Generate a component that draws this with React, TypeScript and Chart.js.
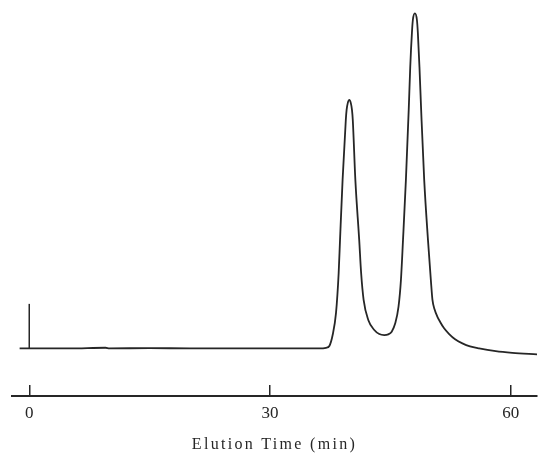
import React, { useEffect, useRef } from "react";
import { Chart, registerables } from "chart.js";

Chart.register(...registerables);

// Elution time (min) and detector response (relative, tallest peak = 100)
const elutionTime = [
  -1.2, 0, 5, 9.5, 10, 15, 20, 25, 30, 34, 36.16, 36.99, 37.4, 37.81, 38.23,
  38.56, 38.73, 39.05, 39.45, 39.55, 39.7, 39.89, 40.07, 40.22, 40.32, 40.64,
  41.12, 41.36, 41.67, 42.25, 43.0, 43.62, 44.24, 44.74, 45.17, 45.61, 46.02,
  46.32, 46.58, 46.94, 47.29, 47.48, 47.69, 47.81, 48.06, 48.31, 48.43, 48.63,
  48.84, 49.22, 49.69, 50.05, 50.25, 50.52, 50.84, 51.21, 51.7, 52.33, 53.07,
  53.98, 54.93, 56.06, 58.13, 60.2, 63.3,
];
const response = [
  0, 0, 0, 0.2, 0, 0.1, 0, 0, 0, 0, 0, 0.2, 0.75, 4.0, 10.6, 22.5, 32.4, 50.3,
  68.2, 71.2, 73.3, 74.2, 73.3, 71.2, 68.2, 50.3, 32.4, 22.5, 14.5, 8.5, 5.5,
  4.3, 4.0, 4.2, 5.0, 7.5, 12.5, 20.4, 32.4, 50.3, 71.2, 84.0, 94.2, 98.1, 100,
  98.1, 94.2, 84.0, 71.2, 50.3, 32.4, 20.4, 14.5, 11.6, 9.6, 7.9, 6.0, 4.3, 2.75,
  1.5, 0.6, 0, -0.8, -1.3, -1.8,
];

// Injection marker
const injectionTime = [0, 0];
const injectionMark = [0, 13.3];

// Axis ticks and title
const tickValues = [0, 30, 60];
const axisTitle = "Elution Time (min)";

const FONT = "'Liberation Serif', 'DejaVu Serif', serif";
const INK = "#262626";

const spacingPlugin = {
  id: "titleSpacing",
  beforeDraw(chart: any) {
    chart.ctx.letterSpacing = "2.3px";
  },
  afterDatasetsDraw(chart: any) {
    chart.ctx.letterSpacing = "0px";
  },
};

export default function App() {
  const ref = useRef<HTMLCanvasElement | null>(null);

  useEffect(() => {
    if (!ref.current) return;
    const trace = elutionTime.map((t, i) => ({ x: t, y: response[i] }));
    const marker = injectionTime.map((t, i) => ({ x: t, y: injectionMark[i] }));

    const chart = new Chart(ref.current, {
      type: "line",
      data: {
        datasets: [
          {
            data: trace,
            borderColor: INK,
            borderWidth: 1.8,
            pointRadius: 0,
            cubicInterpolationMode: "monotone",
            fill: false,
          },
          {
            data: marker,
            borderColor: INK,
            borderWidth: 1.5,
            pointRadius: 0,
            fill: false,
          },
        ],
      },
      options: {
        animation: false,
        responsive: false,
        events: [],
        layout: { padding: { left: 12, right: 0, top: 0, bottom: 0 }, autoPadding: false },
        plugins: { legend: { display: false }, tooltip: { enabled: false } },
        scales: {
          x: {
            type: "linear",
            min: -2.15,
            max: 63.27,
            afterBuildTicks: (s: any) => {
              s.ticks = tickValues.map((v) => ({ value: v }));
            },
            grid: {
              drawOnChartArea: false,
              drawTicks: true,
              tickLength: -11,
              color: INK,
              lineWidth: 1.5,
            },
            border: { display: true, color: INK, width: 2 },
            ticks: {
              padding: 18.8,
              z: 1,
              color: INK,
              font: { family: FONT, size: 17 },
              maxRotation: 0,
              callback: (v: any) => String(v),
            },
            title: {
              display: true,
              text: axisTitle,
              color: INK,
              font: { family: FONT, size: 16 },
              padding: { top: -7.7, bottom: 0.5 },
            },
          },
          y: {
            type: "linear",
            display: false,
            min: -14.2,
            max: 104,
          },
        },
      },
      plugins: [spacingPlugin],
    } as any);
    return () => chart.destroy();
  }, []);

  return (
    <div style={{ position: "absolute", left: 0, top: 0, width: 538, height: 455, background: "#fff" }}>
      <canvas ref={ref} width={538} height={455} />
    </div>
  );
}
